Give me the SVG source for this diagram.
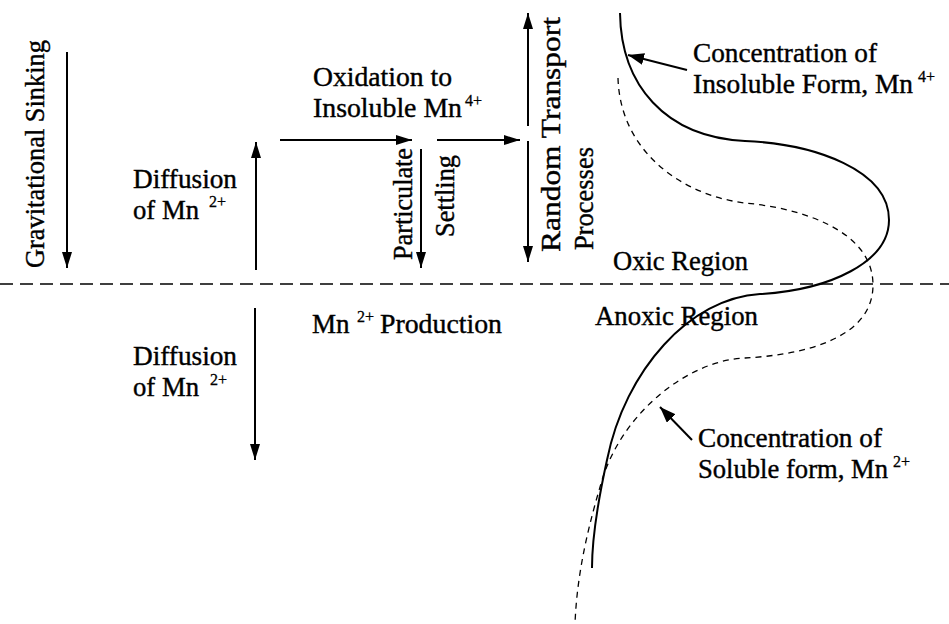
<svg xmlns="http://www.w3.org/2000/svg" width="949" height="624" viewBox="0 0 949 624">
<style>
text{font-family:'Liberation Serif','Times New Roman',serif;font-size:27px;fill:#000;stroke:#000;stroke-width:0.4}
.sup{font-size:16px;stroke-width:0.3}
.arr{stroke:#000;stroke-width:2;fill:none;marker-end:url(#ah)}
.ptr{stroke:#000;stroke-width:2;fill:none;marker-end:url(#ah2)}
.sep{stroke:#000;stroke-width:1.5;stroke-dasharray:13 7;fill:none}
.ins{stroke:#000;stroke-width:2;fill:none}
.sol{stroke:#000;stroke-width:1.3;stroke-dasharray:6 5;fill:none}
</style>
<defs>
<marker id="ah" viewBox="0 0 16 10" refX="16" refY="5" markerWidth="16" markerHeight="10" markerUnits="userSpaceOnUse" orient="auto">
<path d="M0,0 L16,5 L0,10 Z" fill="#000"/>
</marker>
<marker id="ah2" viewBox="0 0 16 12" refX="16" refY="6" markerWidth="16" markerHeight="12" markerUnits="userSpaceOnUse" orient="auto">
<path d="M0,0 L16,6 L0,12 Z" fill="#000"/>
</marker>
</defs>

<g id="boundary">
<line class="sep" x1="0" y1="284" x2="949" y2="284"/>
</g>

<g id="curves">
<path id="insoluble-curve" class="ins" d="M620,13 C621,85 665,137 745,141 C815,144 889,170 889,220 C889,262 830,290 760,294 C690,298 625,370 607,460 C596,510 592,540 592,568"/>
<path id="soluble-curve" class="sol" d="M618,78 C620,150 680,195 745,203 C800,208 873,230 873,285 C873,340 800,355 745,358 C690,360 625,410 603,477 C590,520 577,570 575,624"/>
</g>

<g id="connectors">
<line class="arr" x1="67" y1="52" x2="67" y2="268"/>
<line class="arr" x1="256" y1="270" x2="256" y2="142"/>
<line class="arr" x1="280" y1="140" x2="412" y2="140"/>
<line class="arr" x1="421" y1="149" x2="421" y2="268"/>
<line class="arr" x1="437" y1="140" x2="520" y2="140"/>
<line class="arr" x1="528" y1="126" x2="528" y2="13"/>
<line class="arr" x1="528" y1="141" x2="528" y2="262"/>
<line class="arr" x1="255" y1="308" x2="255" y2="460"/>
<line class="ptr" x1="687" y1="70" x2="628" y2="55"/>
<line class="ptr" x1="692" y1="440" x2="660" y2="407"/>
</g>

<g id="gravitational-sinking">
<text transform="translate(44,268) rotate(-90)" textLength="228" lengthAdjust="spacingAndGlyphs">Gravitational Sinking</text>
</g>

<g id="diffusion-up">
<text x="133" y="188" textLength="104" lengthAdjust="spacingAndGlyphs">Diffusion</text>
<text x="133" y="219" textLength="66" lengthAdjust="spacingAndGlyphs">of Mn</text>
<text class="sup" x="209" y="207">2+</text>
</g>

<g id="oxidation">
<text x="313" y="86" textLength="139" lengthAdjust="spacingAndGlyphs">Oxidation to</text>
<text x="313" y="117" textLength="149" lengthAdjust="spacingAndGlyphs">Insoluble Mn</text>
<text class="sup" x="465" y="106">4+</text>
</g>

<g id="particulate-settling">
<text transform="translate(412,260) rotate(-90)" textLength="112" lengthAdjust="spacingAndGlyphs">Particulate</text>
<text transform="translate(454,237) rotate(-90)" textLength="82" lengthAdjust="spacingAndGlyphs">Settling</text>
</g>

<g id="random-transport">
<text transform="translate(560,252) rotate(-90)" textLength="235" lengthAdjust="spacingAndGlyphs">Random Transport</text>
<text transform="translate(593,250) rotate(-90)" textLength="103" lengthAdjust="spacingAndGlyphs">Processes</text>
</g>

<g id="oxic-region">
<text x="613" y="270" textLength="135" lengthAdjust="spacingAndGlyphs">Oxic Region</text>
</g>

<g id="anoxic-region">
<text x="595" y="325" textLength="163" lengthAdjust="spacingAndGlyphs">Anoxic Region</text>
</g>

<g id="mn-production">
<text x="312" y="333">Mn</text>
<text class="sup" x="357" y="322">2+</text>
<text x="380" y="333" textLength="122" lengthAdjust="spacingAndGlyphs">Production</text>
</g>

<g id="diffusion-down">
<text x="133" y="365" textLength="104" lengthAdjust="spacingAndGlyphs">Diffusion</text>
<text x="133" y="396" textLength="66" lengthAdjust="spacingAndGlyphs">of Mn</text>
<text class="sup" x="210" y="385">2+</text>
</g>

<g id="insoluble-label">
<text x="693" y="62" textLength="184" lengthAdjust="spacingAndGlyphs">Concentration of</text>
<text x="693" y="93" textLength="220" lengthAdjust="spacingAndGlyphs">Insoluble Form, Mn</text>
<text class="sup" x="918" y="82">4+</text>
</g>

<g id="soluble-label">
<text x="698" y="447" textLength="184" lengthAdjust="spacingAndGlyphs">Concentration of</text>
<text x="698" y="478" textLength="190" lengthAdjust="spacingAndGlyphs">Soluble form, Mn</text>
<text class="sup" x="893" y="467">2+</text>
</g>
</svg>
